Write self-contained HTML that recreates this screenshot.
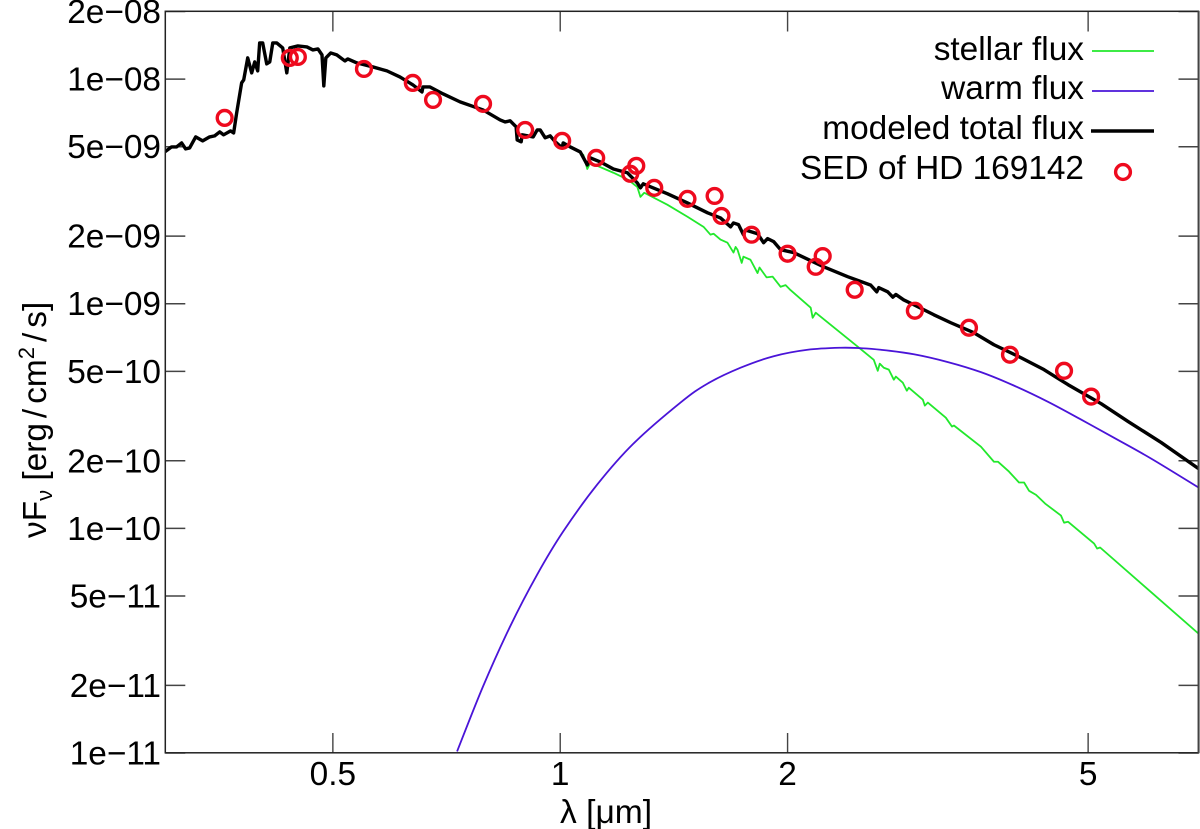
<!DOCTYPE html>
<html lang="en">
<head>
<meta charset="utf-8">
<title>SED of HD 169142</title>
<style>
html,body{margin:0;padding:0;background:#fff;width:1200px;height:829px;overflow:hidden}
svg{display:block}
text{font-family:"Liberation Sans",Arial,sans-serif;fill:#000}
</style>
</head>
<body>
<svg id="chart" width="1200" height="829" viewBox="0 0 1200 829" xmlns="http://www.w3.org/2000/svg">
  <defs><clipPath id="plot-clip"><rect x="165" y="11" width="1034" height="742"/></clipPath></defs>
  <g id="ticks"></g>
  <g id="series" clip-path="url(#plot-clip)"></g>
  <rect x="165.3" y="11.3" width="1033.2" height="741.5" fill="none" stroke="#222" stroke-width="1.5"/>
  <line x1="1198.6" y1="11" x2="1198.6" y2="753" stroke="#444" stroke-width="2"/>
  <g id="labels" font-size="33.4"></g>
  <text x="560" y="823" font-size="33.6">λ [μm]</text>
  <text transform="translate(46,538) rotate(-90)" font-size="33.4">νF<tspan font-size="22" dy="6">ν</tspan><tspan dy="-6"> [erg</tspan><tspan dx="5">/</tspan><tspan dx="5">cm</tspan><tspan font-size="22" dy="-12">2</tspan><tspan dy="12" dx="5">/</tspan><tspan dx="5">s]</tspan></text>
  <g font-size="33.4" text-anchor="end">
    <text x="1084" y="60">stellar flux</text>
    <line x1="1092" y1="51" x2="1154" y2="51" stroke="#22e82c" stroke-width="1.8"/>
    <text x="1084" y="99">warm flux</text>
    <line x1="1092" y1="91" x2="1154" y2="91" stroke="#4a14d8" stroke-width="1.8"/>
    <text x="1084" y="139">modeled total flux</text>
    <line x1="1091" y1="131" x2="1154" y2="131" stroke="#000" stroke-width="3.5"/>
    <text x="1084" y="179">SED of HD 169142</text>
    <circle cx="1123" cy="172" r="7.4" fill="none" stroke="#ee0a1e" stroke-width="3.4"/>
  </g>
</svg>
<script>
// Wavelengths in micrometres; fluxes in units of 1e-9 erg/cm2/s.
const xTickValues = [0.5, 1, 2, 5];
const xTickLabels = ["0.5", "1", "2", "5"];
const yTickValues = [20, 10, 5, 2, 1, 0.5, 0.2, 0.1, 0.05, 0.02, 0.01];
const yTickLabels = ["2e−08", "1e−08", "5e−09", "2e−09", "1e−09", "5e−10", "2e−10", "1e−10", "5e−11", "2e−11", "1e−11"];

const totalWavelength = [0.2994,0.3058,0.3105,0.3153,0.3192,0.3231,0.3291,0.3362,0.3434,0.3487,0.3541,0.3584,0.3661,0.3695,0.3729,0.3786,0.3810,0.3857,0.3904,0.3940,0.3976,0.4000,0.4037,0.4087,0.4125,0.4163,0.4214,0.4291,0.4345,0.4385,0.4494,0.4620,0.4705,0.4778,0.4837,0.4864,0.4894,0.4968,0.5060,0.5187,0.5233,0.5380,0.5649,0.5896,0.6134,0.6383,0.6561,0.6581,0.6723,0.6995,0.7369,0.7904,0.8327,0.8453,0.8584,0.8742,0.8770,0.8878,0.8905,0.9209,0.9322,0.9408,0.9552,0.9699,0.9849,1.006,1.009,1.031,1.063,1.086,1.096,1.130,1.176,1.227,1.265,1.277,1.288,1.386,1.474,1.567,1.630,1.681,1.696,1.722,1.748,1.759,1.825,1.859,1.882,1.917,1.958,2.037,2.233,2.402,2.577,2.625,2.641,2.714,2.757,2.782,2.850,2.939,3.124,3.290,3.529,3.752,4.075,4.371,4.704,5.202,5.649,6.249,7.0];
const totalFlux = [4.74,4.99,4.99,5.20,4.89,4.94,5.53,5.31,5.53,5.59,5.82,5.65,5.88,5.76,7.07,9.62,9.92,12.43,10.66,11.93,10.88,14.49,14.49,11.69,11.93,14.49,14.49,13.77,10.66,13.77,14.05,13.91,13.49,13.63,12.82,9.33,12.43,13.08,12.82,12.05,12.30,11.81,11.33,10.88,10.23,9.42,8.77,9.23,9.23,8.60,7.92,7.29,6.58,6.45,6.52,6.13,5.36,5.26,5.65,5.53,5.94,5.94,5.48,5.59,5.26,4.94,5.20,4.99,4.74,4.15,4.46,4.28,3.98,3.83,3.45,3.28,3.42,3.09,2.81,2.54,2.41,2.20,2.29,2.25,2.03,2.13,2.05,1.87,1.95,1.89,1.74,1.69,1.46,1.32,1.21,1.13,1.18,1.13,1.07,1.10,1.04,0.990,0.893,0.823,0.743,0.657,0.575,0.509,0.436,0.359,0.299,0.241,0.1845];

const stellarWavelength = [1.037,1.073,1.086,1.096,1.176,1.231,1.265,1.277,1.292,1.386,1.474,1.548,1.581,1.596,1.630,1.665,1.696,1.707,1.717,1.739,1.748,1.786,1.825,1.836,1.876,1.911,1.958,1.988,2.018,2.146,2.159,2.179,2.477,2.601,2.633,2.649,2.682,2.723,2.765,2.782,2.842,2.877,2.894,3.021,3.039,3.067,3.240,3.301,3.321,3.606,3.752,3.798,3.928,4.050,4.113,4.176,4.266,4.385,4.603,4.646,4.704,5.092,5.139,5.186,6.004,7.0];
const stellarFlux = [4.99,4.60,3.98,4.24,3.83,3.56,3.31,2.99,3.12,2.76,2.44,2.20,2.03,2.05,1.93,1.87,1.69,1.79,1.74,1.52,1.62,1.57,1.37,1.45,1.31,1.32,1.19,1.21,1.15,0.960,0.866,0.912,0.644,0.563,0.503,0.541,0.519,0.509,0.459,0.474,0.445,0.410,0.423,0.374,0.352,0.363,0.311,0.284,0.287,0.231,0.198,0.198,0.179,0.160,0.160,0.147,0.141,0.129,0.114,0.106,0.107,0.0856,0.0813,0.0822,0.0534,0.0340];

const warmWavelength = [0.7302,0.7904,0.8584,0.9322,1.009,1.120,1.250,1.443,1.567,1.733,1.917,2.126,2.352,2.500,2.657,2.939,3.261,3.606,3.989,4.424,4.894,5.412,6.060,7.0];
const warmFlux = [0.01016,0.0198,0.0366,0.0623,0.0968,0.157,0.2383,0.363,0.441,0.519,0.584,0.624,0.637,0.634,0.624,0.596,0.550,0.496,0.432,0.366,0.305,0.253,0.2044,0.152];

const sedWavelength = [0.3595,0.4385,0.4494,0.5497,0.638,0.6786,0.7904,0.8986,1.006,1.116,1.238,1.261,1.332,1.474,1.601,1.635,1.792,2.0,2.179,2.226,2.454,2.948,3.477,3.940,4.646,5.046];
const sedFlux = [6.72,12.43,12.55,11.10,9.62,8.08,7.76,5.94,5.31,4.46,3.79,4.11,3.28,2.93,3.02,2.46,2.03,1.67,1.46,1.63,1.154,0.931,0.782,0.593,0.503,0.386];

const NS = "http://www.w3.org/2000/svg";
const plot = {left: 165.3, right: 1198.5, top: 11.5, bottom: 753};
const xDomain = [0.3, 7];
const yDomain = [0.01, 20];

function xPos(v) {
  return plot.left + (Math.log10(v) - Math.log10(xDomain[0])) / (Math.log10(xDomain[1]) - Math.log10(xDomain[0])) * (plot.right - plot.left);
}
function yPos(v) {
  return plot.bottom - (Math.log10(v) - Math.log10(yDomain[0])) / (Math.log10(yDomain[1]) - Math.log10(yDomain[0])) * (plot.bottom - plot.top);
}
function make(tag, attrs, parent) {
  const node = document.createElementNS(NS, tag);
  for (const key in attrs) node.setAttribute(key, attrs[key]);
  parent.appendChild(node);
  return node;
}
function straightPath(xs, ys) {
  return xs.map((v, i) => (i ? "L" : "M") + xPos(v).toFixed(2) + " " + yPos(ys[i]).toFixed(2)).join("");
}
function smoothPath(xs, ys) {
  const p = xs.map((v, i) => [xPos(v), yPos(ys[i])]);
  let d = "M" + p[0][0].toFixed(2) + " " + p[0][1].toFixed(2);
  for (let i = 0; i < p.length - 1; i++) {
    const a = p[Math.max(i - 1, 0)], b = p[i], c = p[i + 1], e = p[Math.min(i + 2, p.length - 1)];
    d += "C" + (b[0] + (c[0] - a[0]) / 6).toFixed(2) + " " + (b[1] + (c[1] - a[1]) / 6).toFixed(2) + " " +
         (c[0] - (e[0] - b[0]) / 6).toFixed(2) + " " + (c[1] - (e[1] - b[1]) / 6).toFixed(2) + " " +
         c[0].toFixed(2) + " " + c[1].toFixed(2);
  }
  return d;
}

const tickGroup = document.getElementById("ticks");
const labelGroup = document.getElementById("labels");
const seriesGroup = document.getElementById("series");
const tickLength = 20;
const tickStyle = {stroke: "#444", "stroke-width": 1.4};

xTickValues.forEach((v, i) => {
  const x = xPos(v);
  const bottomTick = make("line", Object.assign({x1: x, x2: x, y1: plot.bottom, y2: plot.bottom - tickLength}, tickStyle), tickGroup);
  
  
  const topTick = make("line", Object.assign({x1: x, x2: x, y1: plot.top, y2: plot.top + tickLength}, tickStyle), tickGroup);
  
  
  const label = make("text", {x: x, y: 785, "text-anchor": "middle"}, labelGroup);
  label.textContent = xTickLabels[i];
  
  
});

yTickValues.forEach((v, i) => {
  const y = yPos(v);
  const leftTick = make("line", Object.assign({x1: plot.left, x2: plot.left + tickLength, y1: y, y2: y}, tickStyle), tickGroup);
  
  
  const rightTick = make("line", Object.assign({x1: plot.right, x2: plot.right - tickLength, y1: y, y2: y}, tickStyle), tickGroup);
  
  
  const label = make("text", {x: 161, y: y + 11.5, "text-anchor": "end"}, labelGroup);
  label.textContent = yTickLabels[i];
  
  
});

const stellarLine = make("path", {d: straightPath(stellarWavelength, stellarFlux), fill: "none", stroke: "#22e82c", "stroke-width": 1.8, "stroke-linejoin": "round"}, seriesGroup);



const warmLine = make("path", {d: smoothPath(warmWavelength, warmFlux), fill: "none", stroke: "#4a14d8", "stroke-width": 1.8}, seriesGroup);



const totalLine = make("path", {d: straightPath(totalWavelength, totalFlux), fill: "none", stroke: "#000", "stroke-width": 3.4, "stroke-linejoin": "round"}, seriesGroup);



sedWavelength.forEach((v, i) => {
  const point = make("circle", {cx: xPos(v), cy: yPos(sedFlux[i]), r: 7.4, fill: "none", stroke: "#ee0a1e", "stroke-width": 3.4}, seriesGroup);
  
  
});
</script>
</body>
</html>
